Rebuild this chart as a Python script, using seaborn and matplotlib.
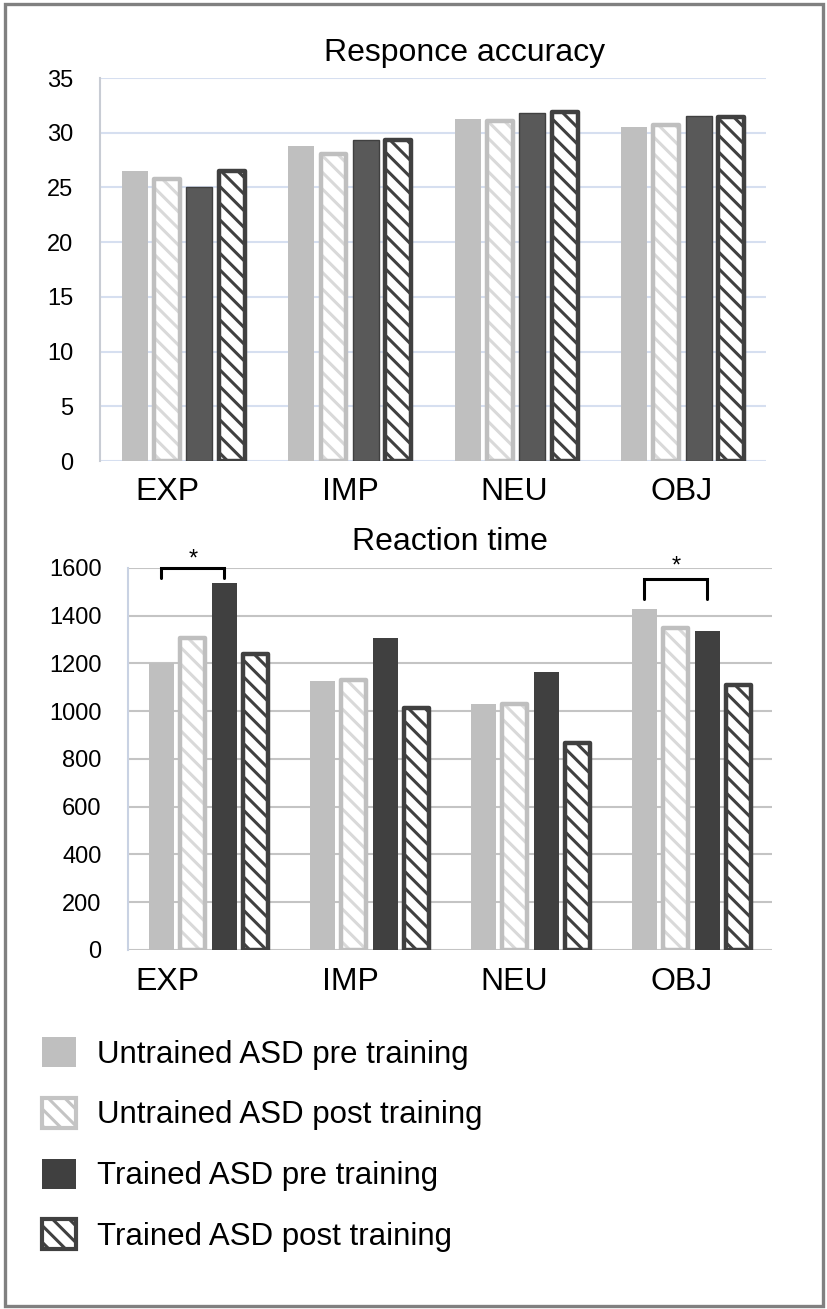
import numpy as np
import pandas as pd
import seaborn as sns
import matplotlib.pyplot as plt
from matplotlib.patches import Patch, Rectangle

# data
categories = ["EXP", "IMP", "NEU", "OBJ"]
groups = ["Untrained ASD pre training", "Untrained ASD post training",
          "Trained ASD pre training", "Trained ASD post training"]

acc_untrained_pre = [26.5, 28.8, 31.3, 30.5]
acc_untrained_post = [25.8, 28.1, 31.1, 30.7]
acc_trained_pre = [25.0, 29.3, 31.8, 31.5]
acc_trained_post = [26.5, 29.3, 31.9, 31.4]

rt_untrained_pre = [1200, 1127, 1030, 1428]
rt_untrained_post = [1305, 1130, 1030, 1350]
rt_trained_pre = [1536, 1308, 1166, 1338]
rt_trained_post = [1240, 1015, 865, 1110]

acc_ticks = [0, 5, 10, 15, 20, 25, 30, 35]
rt_ticks = [0, 200, 400, 600, 800, 1000, 1200, 1400, 1600]


def long_df(series):
    rows = []
    for g, vals in zip(groups, series):
        for c, v in zip(categories, vals):
            rows.append({"cat": c, "group": g, "value": v})
    return pd.DataFrame(rows)


df_acc = long_df([acc_untrained_pre, acc_untrained_post, acc_trained_pre, acc_trained_post])
df_rt = long_df([rt_untrained_pre, rt_untrained_post, rt_trained_pre, rt_trained_post])

sns.set_style("white")
plt.rcParams["font.family"] = ["Liberation Sans", "DejaVu Sans"]
plt.rcParams["hatch.linewidth"] = 2.2
plt.rcParams["text.color"] = "black"
plt.rcParams["ytick.color"] = "black"
plt.rcParams["ytick.labelcolor"] = "black"

fig = plt.figure(figsize=(8.27, 13.09), dpi=100)
ax1 = fig.add_axes([0.1209, 0.6478, 0.8053, 0.2926])
ax2 = fig.add_axes([0.1548, 0.2743, 0.7787, 0.2918])


def draw(ax, df, dark, grid_color, spine_color, ticks):
    fills = ["#BFBFBF", "white", dark, "white"]
    sns.barplot(data=df, x="cat", y="value", hue="group", hue_order=groups,
                palette=fills, saturation=1, width=0.78, gap=0.2,
                errorbar=None, legend=False, ax=ax, zorder=3)
    hatch_col = [None, "#D9D9D9", None, "#404040"]
    outline = [None, "#BFBFBF", "#404040", "#404040"]
    for i, cont in enumerate(ax.containers):
        for bar in cont:
            if hatch_col[i] is not None:
                bar.set_hatch("\\\\")
                bar.set_edgecolor(hatch_col[i])
                bar.set_linewidth(0)
                ax.add_patch(Rectangle((bar.get_x(), bar.get_y()), bar.get_width(),
                                       bar.get_height(), fill=False,
                                       edgecolor=outline[i], linewidth=3.2,
                                       zorder=4, joinstyle="round"))
            elif i == 2 and dark != "#404040":
                bar.set_edgecolor(outline[i])
                bar.set_linewidth(1.0)
            else:
                bar.set_linewidth(0)
    ax.set_ylim(ticks[0], ticks[-1])
    ax.set_yticks(ticks)
    ax.set_xlim(-0.5, 3.5)
    ax.set_xticks(range(len(categories)))
    ax.set_xticklabels([])
    ax.yaxis.grid(True, color=grid_color, linewidth=1.5, zorder=0)
    ax.set_axisbelow(True)
    for s in ["top", "right", "bottom"]:
        ax.spines[s].set_visible(False)
    ax.spines["left"].set_color(spine_color)
    ax.spines["left"].set_linewidth(1.5)
    ax.tick_params(axis="y", length=0, pad=19, labelsize=17, labelcolor="black")
    ax.tick_params(axis="x", length=0)
    ax.set_xlabel("")
    ax.set_ylabel("")


draw(ax1, df_acc, "#595959", "#D6DFF0", "#C8CCD4", acc_ticks)
draw(ax2, df_rt, "#404040", "#C4C4C4", "#C9D2E3", rt_ticks)

# category labels sit at the same page positions in both panels
label_x = [167, 350, 514, 682]
for base_y in [500, 990]:
    for cx, name in zip(label_x, categories):
        fig.text(cx / 827, 1 - base_y / 1309, name, ha="center", va="baseline",
                 fontsize=23, color="black")

fig.text(465 / 827, 1 - 53 / 1309, "Responce accuracy", ha="center", va="center",
         fontsize=23, color="black")
fig.text(450 / 827, 1 - 542 / 1309, "Reaction time", ha="center", va="center",
         fontsize=23, color="black")


# significance brackets
def bracket(ax, cat_idx, y_top, y_left, y_right, y_star):
    b0 = ax.containers[0][cat_idx]
    b2 = ax.containers[2][cat_idx]
    x0 = b0.get_x() + b0.get_width() / 2
    x1 = b2.get_x() + b2.get_width() / 2
    ax.plot([x0, x0, x1, x1], [y_left, y_top, y_top, y_right], color="black",
            linewidth=2.2, clip_on=False, zorder=5, solid_joinstyle="miter")
    ax.text((x0 + x1) / 2, y_star, "*", ha="center", va="center", fontsize=17,
            clip_on=False, color="black")


bracket(ax2, 0, 1600, 1558, 1558, 1634)
bracket(ax2, 3, 1554, 1469, 1469, 1606)

# legend
handles = [
    Patch(facecolor="#BFBFBF", edgecolor="#BFBFBF", linewidth=0),
    Patch(facecolor="white", edgecolor="#C4C4C4", hatch="\\\\", linewidth=3),
    Patch(facecolor="#404040", edgecolor="#404040", linewidth=0),
    Patch(facecolor="white", edgecolor="#404040", hatch="\\\\", linewidth=3),
]
leg = fig.legend(handles, groups, loc="upper left", bbox_to_anchor=(42 / 827, 1 - 1037 / 1309),
                 frameon=False, fontsize=22.5, handlelength=1.1, handleheight=1.1,
                 handletextpad=0.65, labelspacing=0.9, borderpad=0, borderaxespad=0)
for t in leg.get_texts():
    t.set_color("black")

# outer frame
fig.patches.append(Rectangle((5 / 827, 1 - 1306 / 1309), 818 / 827, 1302 / 1309,
                             transform=fig.transFigure, fill=False,
                             edgecolor="#808080", linewidth=2.4))

fig.savefig("out.png", dpi=100)
